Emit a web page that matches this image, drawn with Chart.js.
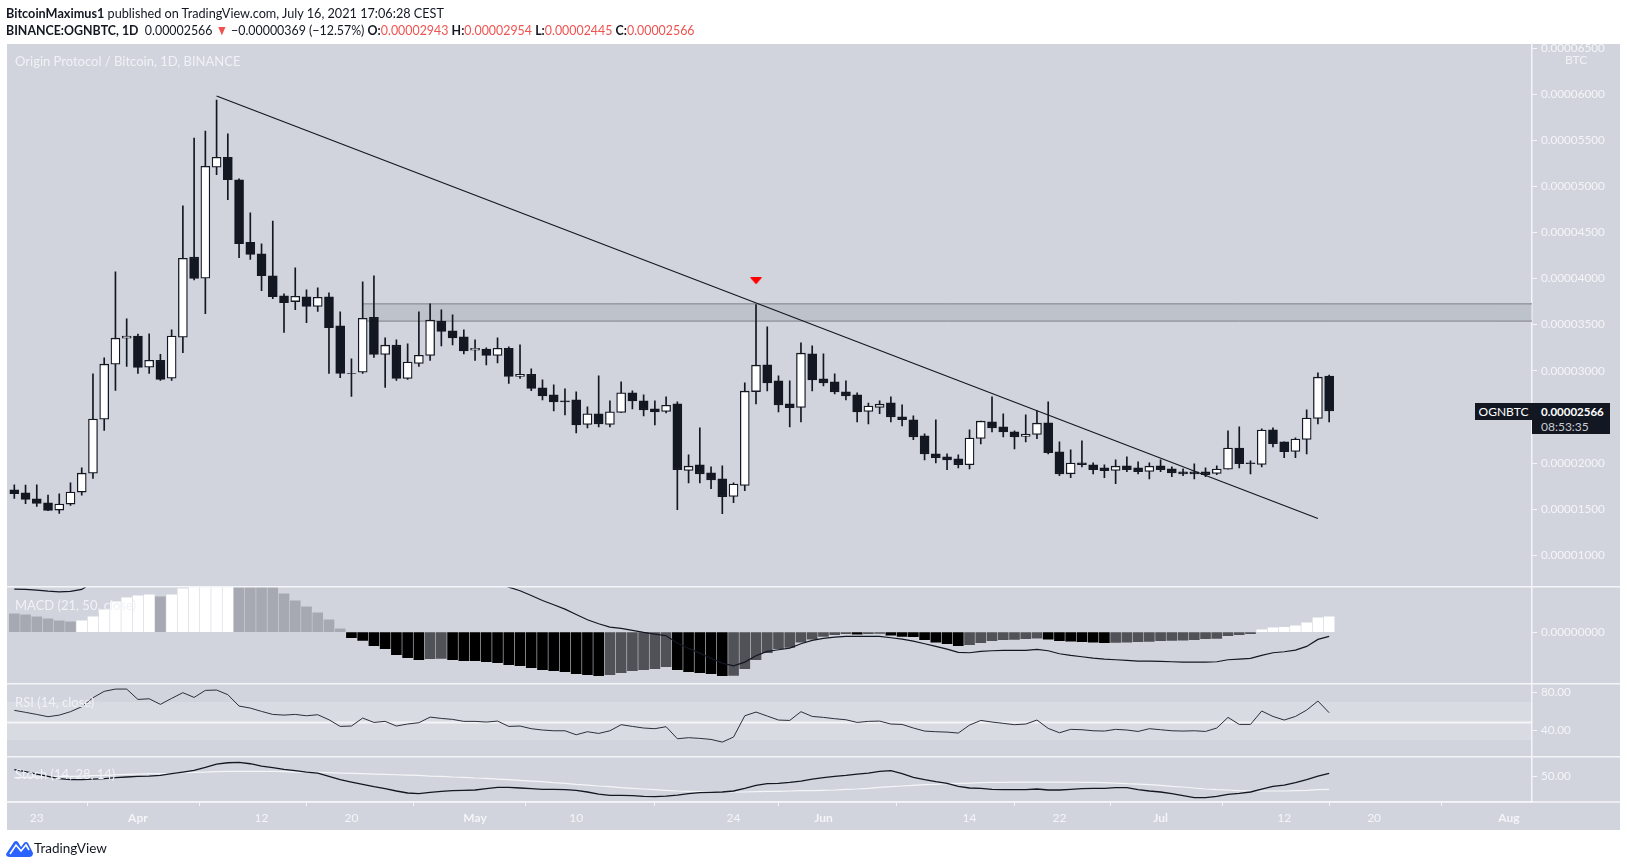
<!DOCTYPE html>
<html>
<head>
<meta charset="utf-8">
<title>OGNBTC</title>
<script src="https://cdn.jsdelivr.net/npm/chart.js@4/dist/chart.umd.js"></script>
<style>
  html, body { margin: 0; padding: 0; background: #fff; width: 1627px; height: 867px; overflow: hidden; }
  body { font-family: Lato, sans-serif; color: #131722; }
  #panel { position: absolute; left: 7px; top: 44px; width: 1613px; height: 786px; background: #d1d4dc; }
  #chart { position: absolute; left: 0; top: 0; }
  .txt { position: absolute; white-space: nowrap; line-height: 16px; transform-origin: 0 50%; }
  .wm { color: #f0f2f6; font-size: 13px; }
  .red { color: #ef5350; }
  b { font-weight: bold; }
  .tag { position: absolute; background: #131722; color: #fff; font-size: 12px; }
</style>
</head>
<body>
<div id="panel"></div>
<canvas id="chart" width="1627" height="867"></canvas>

<div class="txt" style="left:6px;top:5px;font-size:14px;transform:scaleX(.905)"><b>BitcoinMaximus1</b> published on TradingView.com, July 16, 2021 17:06:28 CEST</div>
<div class="txt" style="left:6px;top:22px;font-size:14px;transform:scaleX(.885)"><b>BINANCE:OGNBTC, 1D</b>&nbsp; 0.00002566 <span class="red">▼</span> −0.00000369 (−12.57%) <b>O:</b><span class="red">0.00002943</span> <b>H:</b><span class="red">0.00002954</span> <b>L:</b><span class="red">0.00002445</span> <b>C:</b><span class="red">0.00002566</span></div>
<div class="txt wm" style="left:15px;top:53px">Origin Protocol / Bitcoin, 1D, BINANCE</div>
<div class="txt wm" style="left:15px;top:597px">MACD (21, 50, close)</div>
<div class="txt wm" style="left:15px;top:694px">RSI (14, close)</div>
<div class="txt wm" style="left:15px;top:766px">Stoch (14, 28, 14)</div>
<div class="txt wm" style="left:1565px;top:52px;font-size:12px">BTC</div>

<div class="tag" style="left:1475px;top:403px;width:57px;height:17px;line-height:17px;text-align:center">OGNBTC</div>
<div class="tag" style="left:1532px;top:403px;width:78px;height:31px">
  <div style="padding-left:9px;line-height:17px;font-weight:bold;font-size:11.5px">0.00002566</div>
  <div style="padding-left:9px;line-height:13px;color:#c9ccd3">08:53:35</div>
</div>

<svg style="position:absolute;left:6px;top:840px" width="27" height="17" viewBox="0 0 27 17">
  <path d="M0 14 L8 2 Q10 0 12 2 L15 7 L18 3 Q20 1 22 3 L27 13 Q27 17 23 17 L4 17 Q0 17 0 14 Z" fill="#2962ff"/>
  <path d="M4 14 L10 5 L15 11 L20 5 L23 10" fill="none" stroke="#fff" stroke-width="1.6"/>
</svg>
<div class="txt" style="left:34px;top:840px;font-size:13.5px">TradingView</div>

<script>
// all prices in 1e-8 BTC, index 0 = 21 Mar 2021, one candle per day
const opens = [
  1710,1677,1612,1569,1490,1555,1685,1890,2476,3072,
  3354,3376,3039,3115,2921,3365,4232,4004,5207,5316,
  5070,4394,4268,4029,3812,3751,3802,3697,3802,3487,
  2974,2985,3581,3177,3278,2917,3079,3166,3538,3433,
  3368,3224,3235,3166,3245,2938,2963,2815,2739,2674,
  2685,2418,2533,2418,2548,2761,2674,2588,2559,2642,
  1919,1981,1894,1829,1637,1757,2775,3064,2891,2642,
  2602,3184,2913,2880,2772,2739,2559,2602,2653,2501,
  2469,2295,2100,2067,2046,1981,2266,2447,2393,2338,
  2288,2310,2436,2122,1883,2003,1981,1948,1920,1970,
  1948,1909,1970,1938,1905,1905,1905,1887,1934,2162,
  2003,1985,2360,2230,2125,2255,2483,2943];
const closes = [
  1667,1605,1562,1486,1555,1685,1890,2476,3072,3354,
  3376,3036,3115,2906,3376,4221,4001,5218,5316,5074,
  4380,4261,4033,3805,3740,3809,3697,3798,3469,2971,
  2971,3570,3177,3278,2917,3094,3169,3549,3426,3357,
  3216,3245,3166,3245,2938,2963,2808,2728,2663,2663,
  2414,2533,2425,2555,2761,2674,2577,2555,2627,1927,
  1966,1883,1818,1634,1771,2779,3061,2869,2631,2599,
  3191,2902,2870,2772,2729,2555,2617,2638,2501,2469,
  2284,2100,2057,2035,1981,2270,2454,2382,2338,2284,
  2313,2432,2111,1883,1999,1981,1927,1916,1966,1927,
  1905,1966,1927,1894,1883,1883,1873,1934,2162,1992,
  1992,2357,2209,2122,2259,2487,2931,2566];
const highs = [
  1764,1761,1764,1652,1666,1786,1948,2967,3141,4073,
  3563,3397,3401,3180,3444,4788,5525,5601,5937,5569,
  5081,4712,4376,4625,3834,4116,3877,3899,3845,3639,
  3130,3964,4029,3357,3336,3292,3639,3726,3661,3607,
  3444,3336,3249,3357,3260,3281,3021,2902,2848,2804,
  2772,2609,2945,2674,2880,2783,2739,2674,2718,2663,
  2089,2382,1959,1970,1785,2869,3718,3476,2945,2891,
  3303,3271,3184,2967,2891,2761,2649,2674,2718,2631,
  2512,2317,2469,2100,2089,2360,2454,2718,2534,2349,
  2523,2566,2664,2230,2143,2241,2003,1981,2035,2068,
  2013,2003,2035,1959,1938,1992,1948,1970,2349,2393,
  2024,2371,2382,2230,2274,2577,2978,2954];
const lows = [
  1616,1558,1529,1484,1453,1540,1652,1833,2353,2787,
  3047,2971,2971,2895,2895,3198,3986,3621,5128,4857,
  4228,4207,3870,3783,3415,3664,3523,3643,2971,2927,
  2721,2971,3144,2819,2895,2906,3047,3112,3271,3281,
  3184,3112,3065,3086,2862,2917,2786,2685,2566,2522,
  2327,2382,2392,2392,2548,2588,2512,2414,2544,1493,
  1785,1785,1721,1450,1569,1699,2642,2783,2555,2392,
  2447,2783,2837,2750,2685,2447,2425,2534,2447,2403,
  2252,2035,2002,1927,1948,1937,2208,2338,2284,2154,
  2230,2263,2100,1862,1840,1959,1883,1840,1775,1905,
  1883,1829,1905,1851,1862,1829,1851,1873,1934,1948,
  1883,1959,2176,2057,2057,2100,2425,2445];

const macdHist = [
  55,52,46,40,34,31,34,46,67,91,
  103,109,112,106,112,130,150,165,170,172,
  168,160,150,140,115,94,76,58,37,10,
  -17,-25,-41,-50,-68,-77,-83,-80,-79,-83,
  -86,-86,-89,-92,-98,-101,-107,-113,-116,-119,
  -125,-128,-131,-128,-122,-116,-113,-110,-104,-113,
  -119,-122,-125,-131,-130,-110,-83,-62,-50,-46,
  -30,-21,-13,-8,-5,-6,-5,-4,-9,-13,
  -14,-23,-30,-35,-41,-38,-32,-26,-23,-22,
  -20,-18,-21,-26,-27,-29,-30,-32,-31,-30,
  -29,-28,-26,-25,-24,-23,-20,-19,-11,-8,
  -5,7,13,14,19,28,43,46];
const macdLine = [
  129,128,126,123,121,122,128,150,172,195,
  215,232,248,262,275,285,294,300,304,306,
  305,302,298,292,285,278,270,262,255,248,
  240,232,224,216,208,200,194,188,182,176,
  170,165,158,148,135,124,110,95,82,69,
  53,37,25,15,11,5,-1,-6,-11,-33,
  -49,-63,-79,-93,-101,-90,-71,-58,-53,-48,
  -35,-25,-19,-15,-13,-13,-13,-13,-17,-21,
  -27,-35,-43,-51,-61,-62,-58,-56,-55,-55,
  -55,-52,-56,-65,-70,-74,-78,-81,-83,-85,
  -87,-87,-88,-89,-90,-90,-90,-89,-83,-81,
  -79,-70,-62,-59,-54,-43,-22,-13];
const rsi = [
  61.1,59,56.8,54.4,56.1,59.7,64.9,74.4,81.1,83.5,
  83.5,72.6,73.3,67.4,73.7,79.7,74.7,82.1,82.5,77.6,
  65.6,63.5,60,56.8,56.1,56.8,55.4,56.5,51.2,44.2,
  44.6,53,48.4,49.5,44.6,46.7,48.1,54,52.6,51.6,
  49.5,49.5,48.8,49.8,44.2,44.6,41.8,40.4,39.6,39.6,
  35.4,38.6,36.8,39.6,46,44.2,42.5,41.8,43.9,31.2,
  32.3,31.6,30.5,27.7,33,55.4,59.3,55.1,50.9,50.5,
  59.7,54.7,53.7,52.3,51.2,48.4,49.5,49.8,46.7,46.3,
  42.5,39.3,38.6,38.2,37.2,45.6,50.5,48.8,47.4,46,
  46.7,50.9,42.1,37.5,41.1,40.7,39.6,39.3,41.1,40.4,
  38.9,41.8,40.7,39.6,39.3,39.6,38.9,42.5,53.7,46.3,
  46.3,60.4,54.7,50.9,54.7,61.4,70.9,58.6];
const stochK = [
  65.4,60.8,55.4,50,44.6,42.3,42.3,43.8,44.6,46.9,
  48.5,50,50.8,52.3,56.2,60,63.8,70.8,78.5,81.5,
  82.3,79.2,73.8,70,66.1,63.1,60,57.7,50,42.3,
  36.9,31.5,26.2,21.5,16.2,11.6,10,13.1,15.4,16.9,
  17.7,18.5,21.5,24.6,24.6,23.1,21.5,20,20,19.2,
  17.7,13.9,9.2,6.2,6.2,5.4,3.9,3.1,4.6,6.9,
  10,12.3,13.1,13.9,16.2,22.3,29.2,33.1,33.9,36.2,
  39.2,43.8,46.9,50,52.3,55.4,57.7,61.5,63.1,56.2,
  47.7,42.3,37.7,33.9,26.9,23.1,22.3,20,19.2,19.2,
  19.2,20.8,18.5,18.5,20,21.5,22.3,22.3,23.9,23.9,
  19.2,16.2,13.9,10,5.4,0.8,0.8,3.9,8.5,10.8,
  13.9,20.8,26.9,30,35.4,42.3,50.8,56.9];
const stochD = [
  46.9,47.7,48.5,49.2,50,50,50.8,51.5,52.3,53.8,
  54.6,55.4,56.2,56.2,56.9,58.5,59.2,60,60.8,61.5,
  61.5,61.5,61.5,61.5,60.8,60,59.2,59.2,58.5,57.7,
  56.9,56.2,55.4,54.6,53.8,53.1,52.3,50.8,50,48.5,
  47.7,46.2,45.4,43.8,42.3,40.8,39.2,37.7,35.4,33.9,
  31.5,30,27.7,26.2,23.9,22.3,20.8,19.2,17.7,16.2,
  15.4,14.6,13.9,13.9,13.9,13.9,14.6,15.4,15.4,16.2,
  16.9,16.9,17.7,18.5,20,20.8,22.3,24.6,26.2,27.7,
  29.2,30.8,31.5,33.1,33.9,34.6,35.4,36.2,36.2,36.9,
  36.9,36.9,36.9,36.9,36.9,36.2,36.2,35.4,34.6,33.1,
  32.3,30.8,29.2,26.9,25.4,23.1,20.8,19.2,18.5,16.9,
  16.2,16.2,16.2,16.2,16.9,17.7,19.2,20];

// drawings on the price pane
const trendX = [18, 116];
const trendY = [5980, 1398];
const zoneStart = 31;
const zoneTop = 3726;
const zoneBottom = 3539;
const arrowX = [66];
const arrowY = [3975];

const dateTickIdx = [2, 11, 22, 30, 41, 50, 64, 72, 85, 93, 102, 113, 121, 133];
const dateTickLabels = ['23', 'Apr', '12', '20', 'May', '10', '24', 'Jun', '14', '22', 'Jul', '12', '20', 'Aug'];
const monthLabels = ['Apr', 'May', 'Jun', 'Jul', 'Aug'];
const priceTicks = [1000, 1500, 2000, 2500, 3000, 3500, 4000, 4500, 5000, 5500, 6000, 6500];
const macdTicks = [0];
const rsiTicks = [40, 80];
const stochTicks = [50];
const rsiBand = [70, 30];
const rsiMid = 48.4;

const xMin = -0.65;
const xMax = 135.05;
const dark = '#131722';
const tickColor = '#f4f5f8';

const days = opens.map((_, i) => i);
const series = (arr) => arr.map((v, i) => ({ x: i, y: v }));
const level = (v, from) => [{ x: from === undefined ? xMin : from, y: v }, { x: xMax, y: v }];
const plainLine = (yAxisID, data, color, width, order, extra) => Object.assign({
  type: 'line', yAxisID, data, borderColor: color, borderWidth: width, pointRadius: 0, tension: 0, order,
}, extra);

// flat down-pointing arrow
const arrow = document.createElement('canvas');
arrow.width = 12;
arrow.height = 7;
const actx = arrow.getContext('2d');
actx.fillStyle = '#f00';
actx.beginPath();
actx.moveTo(0, 0);
actx.lineTo(12, 0);
actx.lineTo(6, 7);
actx.fill();

const histColor = (v, i) => {
  const prev = i ? macdHist[i - 1] : Infinity;
  if (v >= 0) return v >= prev ? '#ffffff' : '#a6a9b1';
  return v <= prev ? '#000000' : '#505257';
};

// white rules between the panes, they run over the axis column too
const paneRules = {
  id: 'paneRules',
  afterDraw(chart) {
    const { ctx, scales } = chart;
    ctx.save();
    ctx.strokeStyle = '#f4f5f8';
    ctx.lineWidth = 1.5;
    [scales.macd.top, scales.rsi.top, scales.stoch.top, scales.x.top].forEach((y) => {
      ctx.beginPath();
      ctx.moveTo(7, y);
      ctx.lineTo(1620, y);
      ctx.stroke();
    });
    ctx.restore();
  },
};

const rightAxis = (stackWeight, weight, min, max, ticks, fmt) => ({
  type: 'linear',
  position: 'right',
  stack: 'panes',
  stackWeight,
  weight,
  min,
  max,
  border: { color: '#f4f5f8', width: 1.5 },
  grid: { drawOnChartArea: false, color: '#f4f5f8', tickLength: 5 },
  ticks: { color: tickColor, font: { family: 'Lato', size: 11.7 }, padding: 4, autoSkip: false, callback: fmt },
  afterBuildTicks: (scale) => { scale.ticks = ticks.map((value) => ({ value })); },
  afterFit: (scale) => { scale.width = 88; },
});

new Chart(document.getElementById('chart'), {
  type: 'bar',
  data: {
    labels: days,
    datasets: [
      plainLine('y', series([]), dark, 1.2, 0, { data: trendX.map((x, i) => ({ x, y: trendY[i] })) }),
      plainLine('y', level(0), 'transparent', 0, 0, {
        data: arrowX.map((x, i) => ({ x, y: arrowY[i] })), showLine: false, pointRadius: 6, pointStyle: arrow,
      }),
      { type: 'bar', yAxisID: 'y', grouped: false, barThickness: 9, order: 1,
        data: days.map((i) => ({ x: i, y: [opens[i], closes[i]] })),
        backgroundColor: days.map((i) => (closes[i] >= opens[i] ? '#ffffff' : dark)),
        borderColor: dark, borderWidth: 1.3, borderSkipped: false },
      { type: 'bar', yAxisID: 'y', grouped: false, barThickness: 1, order: 2,
        data: days.map((i) => ({ x: i, y: [lows[i], highs[i]] })),
        backgroundColor: dark },
      plainLine('y', level(zoneTop, zoneStart), '#7f8187', 1, 5),
      plainLine('y', level(zoneBottom, zoneStart), '#7f8187', 1, 5, { fill: '-1', backgroundColor: 'rgba(131,134,146,0.23)' }),

      plainLine('macd', series(macdLine), dark, 1.2, 0),
      { type: 'bar', yAxisID: 'macd', grouped: false, barThickness: 10, order: 1,
        data: series(macdHist), backgroundColor: macdHist.map(histColor) },

      plainLine('rsi', series(rsi), '#2a2e39', 1, 0),
      plainLine('rsi', level(rsiMid), '#f4f5f8', 2, 1),
      plainLine('rsi', level(rsiBand[0]), 'transparent', 0, 5),
      plainLine('rsi', level(rsiBand[1]), 'transparent', 0, 5, { fill: '-1', backgroundColor: 'rgba(255,255,255,0.17)' }),

      plainLine('stoch', series(stochK), dark, 1.3, 0),
      plainLine('stoch', series(stochD), '#f4f5f8', 1.2, 1),
    ],
  },
  options: {
    responsive: false,
    animation: false,
    events: [],
    devicePixelRatio: 1,
    layout: { padding: { left: 7, top: 44, right: 7, bottom: 37 } },
    plugins: { legend: { display: false }, tooltip: { enabled: false } },
    scales: {
      x: {
        type: 'linear',
        min: xMin,
        max: xMax,
        offset: false,
        border: { color: '#f4f5f8', width: 1.5 },
        grid: { drawOnChartArea: false, color: '#f4f5f8', tickLength: 4 },
        ticks: {
          color: tickColor,
          padding: 5,
          autoSkip: false,
          maxRotation: 0,
          font: (ctx) => ({
            family: 'Lato', size: 12,
            weight: monthLabels.includes(dateTickLabels[dateTickIdx.indexOf(ctx.tick && ctx.tick.value)]) ? 'bold' : 'normal',
          }),
          callback: (v) => dateTickLabels[dateTickIdx.indexOf(v)],
        },
        afterBuildTicks: (scale) => { scale.ticks = dateTickIdx.map((value) => ({ value })); },
        afterFit: (scale) => { scale.height = 28; },
      },
      y: rightAxis(543, 1, 658, 6544, priceTicks, (v) => (v / 1e8).toFixed(8)),
      macd: rightAxis(97, 2, -155, 136, macdTicks, (v) => v.toFixed(8)),
      rsi: rightAxis(73, 3, 12.3, 89.1, rsiTicks, (v) => v.toFixed(2)),
      stoch: rightAxis(45.3, 4, -9.2, 95.4, stochTicks, (v) => v.toFixed(2)),
    },
  },
  plugins: [paneRules],
});
</script>
</body>
</html>
